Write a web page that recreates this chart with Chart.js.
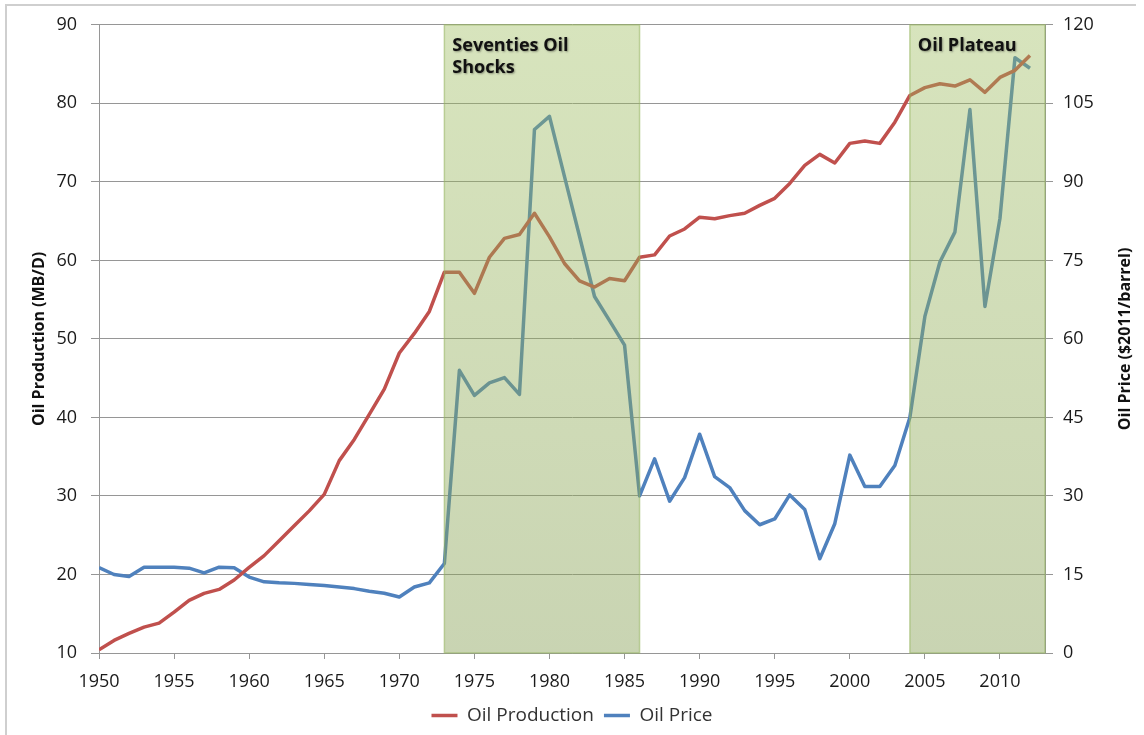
<!DOCTYPE html>
<html><head><meta charset="utf-8">
<script src="https://cdn.jsdelivr.net/npm/chart.js@4/dist/chart.umd.min.js"></script>
<style>html,body{margin:0;padding:0;background:#fff;overflow:hidden}#wrap{position:relative;width:1144px;height:735px}</style>
</head><body><div id="wrap"><canvas id="c" width="1144" height="735"></canvas></div>
<script>
const years = [1950,1951,1952,1953,1954,1955,1956,1957,1958,1959,1960,1961,1962,1963,1964,1965,1966,1967,1968,1969,1970,1971,1972,1973,1974,1975,1976,1977,1978,1979,1980,1981,1982,1983,1984,1985,1986,1987,1988,1989,1990,1991,1992,1993,1994,1995,1996,1997,1998,1999,2000,2001,2002,2003,2004,2005,2006,2007,2008,2009,2010,2011,2012];
const oilProduction = [10.4,11.6,12.5,13.3,13.8,15.2,16.7,17.6,18.1,19.3,20.9,22.4,24.3,26.2,28.1,30.2,34.5,37.2,40.4,43.6,48.2,50.7,53.5,58.5,58.5,55.8,60.4,62.8,63.3,66.0,63.0,59.6,57.4,56.6,57.7,57.4,60.4,60.7,63.1,64.0,65.5,65.3,65.7,66.0,67.0,67.9,69.8,72.1,73.5,72.4,74.9,75.2,74.9,77.6,81.0,82.0,82.5,82.2,83.0,81.4,83.3,84.2,86.1];
const oilPrice = [16.3,15.0,14.6,16.4,16.4,16.4,16.2,15.3,16.4,16.3,14.5,13.6,13.4,13.3,13.1,12.9,12.6,12.3,11.8,11.4,10.7,12.6,13.4,17.1,54.0,49.2,51.6,52.6,49.4,100.0,102.5,91.0,79.6,68.1,63.5,58.8,30.0,37.1,29.0,33.5,41.8,33.7,31.6,27.2,24.5,25.6,30.2,27.4,18.0,24.7,37.8,31.8,31.8,35.8,45.0,64.3,74.7,80.4,103.8,66.2,83.0,113.7,111.7];
const xTickYears = [1950,1955,1960,1965,1970,1975,1980,1985,1990,1995,2000,2005,2010];
const leftTicks = [10,20,30,40,50,60,70,80,90];
const rightTicks = [0,15,30,45,60,75,90,105,120];
const bandStart = [1973, 2004];
const bandEnd = [1986, 2013];
const bandLabels = [["Seventies Oil","Shocks"],["Oil Plateau"]];
const seriesNames = ["Oil Production","Oil Price"];
const axisTitles = ["Oil Production (MB/D)","Oil Price ($2011/barrel)"];

const FONT = "'Open Sans', 'DejaVu Sans', sans-serif";
const GRID = '#969696';

const framePlugin = {
  id: 'frame',
  beforeDraw(chart) {
    const ctx = chart.ctx;
    ctx.save();
    ctx.fillStyle = '#fff';
    ctx.fillRect(0, 0, chart.width, chart.height);
    ctx.strokeStyle = '#cfcfcf';
    ctx.lineWidth = 2;
    ctx.beginPath();
    ctx.moveTo(6, chart.height);
    ctx.lineTo(6, 5);
    ctx.lineTo(1136, 5);
    ctx.stroke();
    ctx.restore();
  }
};

const bandPlugin = {
  id: 'bands',
  afterDatasetsDraw(chart) {
    const ctx = chart.ctx, xs = chart.scales.x, a = chart.chartArea;
    ctx.save();
    for (let i = 0; i < bandStart.length; i++) {
      const x1 = xs.getPixelForValue(bandStart[i]);
      const x2 = xs.getPixelForValue(bandEnd[i]);
      const g = ctx.createLinearGradient(0, a.top, 0, a.bottom);
      g.addColorStop(0, 'rgba(155,187,89,0.40)');
      g.addColorStop(1, 'rgba(135,160,85,0.45)');
      ctx.fillStyle = g;
      ctx.fillRect(x1, a.top, x2 - x1, a.bottom - a.top);
      ctx.strokeStyle = 'rgba(150,180,95,0.55)';
      ctx.lineWidth = 1.5;
      ctx.strokeRect(x1, a.top, x2 - x1, a.bottom - a.top);
      ctx.save();
      ctx.font = "bold 18px " + FONT;
      ctx.fillStyle = '#111';
      ctx.textAlign = 'left';
      ctx.textBaseline = 'alphabetic';
      ctx.shadowColor = 'rgba(0,0,0,0.35)';
      ctx.shadowBlur = 2;
      ctx.shadowOffsetX = 1;
      ctx.shadowOffsetY = 1;
      bandLabels[i].forEach((t, k) => ctx.fillText(t, x1 + 8, a.top + 26 + k * 22));
      ctx.restore();
    }
    ctx.restore();
  },
  afterDraw(chart) {
    const ctx = chart.ctx, a = chart.chartArea;
    ctx.save();
    ctx.translate(1125, (a.top + a.bottom) / 2);
    ctx.rotate(-Math.PI / 2);
    ctx.font = "bold 16px " + FONT;
    ctx.fillStyle = '#111';
    ctx.textAlign = 'center';
    ctx.textBaseline = 'middle';
    ctx.fillText(axisTitles[1], 0, 0);
    ctx.restore();
  }
};

new Chart(document.getElementById('c'), {
  type: 'line',
  data: {
    datasets: [
      { label: seriesNames[0], data: years.map((y, i) => ({x: y, y: oilProduction[i]})), yAxisID: 'y',
        borderColor: '#C0504D', backgroundColor: '#C0504D', borderWidth: 3.5, pointRadius: 0, tension: 0, borderJoinStyle: 'round' },
      { label: seriesNames[1], data: years.map((y, i) => ({x: y, y: oilPrice[i]})), yAxisID: 'y1',
        borderColor: '#4F81BD', backgroundColor: '#4F81BD', borderWidth: 3.5, pointRadius: 0, tension: 0, borderJoinStyle: 'round' }
    ]
  },
  options: {
    responsive: false,
    animation: false,
    devicePixelRatio: 1,
    layout: { padding: { top: 22, left: 0, right: 0, bottom: 0 } },
    plugins: {
      tooltip: { enabled: false },
      legend: {
        position: 'bottom',
        labels: { usePointStyle: true, pointStyle: 'line', pointStyleWidth: 26, padding: 10,
          color: '#333', font: { family: FONT, size: 19 } }
      }
    },
    scales: {
      x: {
        type: 'linear', min: 1950, max: 2013,
        afterBuildTicks: s => { s.ticks = xTickYears.map(v => ({value: v})); },
        afterFit: s => { const L = (s.chart.legend && s.chart.legend.height) || 42; s.height = 735 - 653 - L; },
        ticks: { callback: v => String(v), padding: 12, maxRotation: 0, autoSkip: false, color: '#1a1a1a', font: { family: FONT, size: 18 } },
        grid: { drawOnChartArea: false, tickLength: 6, color: GRID },
        border: { color: GRID, width: 1 }
      },
      y: {
        position: 'left', min: 10, max: 90,
        afterBuildTicks: s => { s.ticks = leftTicks.map(v => ({value: v})); },
        afterFit: s => { s.width = 99; },
        ticks: { padding: 14, color: '#1a1a1a', font: { family: FONT, size: 18 } },
        grid: { color: GRID, lineWidth: 1, tickLength: 8 },
        border: { color: GRID, width: 1 },
        title: { display: true, text: axisTitles[0], color: '#111', padding: { top: 30, bottom: 0 }, font: { family: FONT, size: 16, weight: 'bold' } }
      },
      y1: {
        position: 'right', min: 0, max: 120,
        afterBuildTicks: s => { s.ticks = rightTicks.map(v => ({value: v})); },
        afterFit: s => { s.width = 99; },
        ticks: { padding: 10, color: '#1a1a1a', font: { family: FONT, size: 18 } },
        grid: { drawOnChartArea: false, color: GRID, tickLength: 8 },
        border: { color: GRID, width: 1 }
      }
    }
  },
  plugins: [framePlugin, bandPlugin]
});
</script></body></html>
